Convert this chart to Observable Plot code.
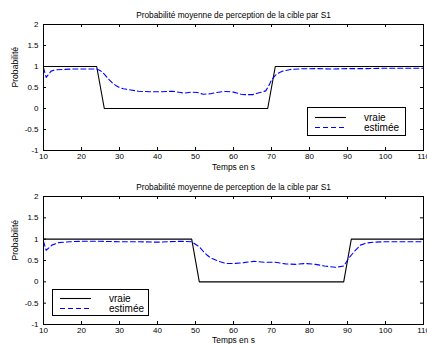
<!DOCTYPE html>
<html>
<head>
<meta charset="utf-8">
<script src="https://cdn.jsdelivr.net/npm/d3@7"></script>
<script src="https://cdn.jsdelivr.net/npm/@observablehq/plot@0.6"></script>
<style>
  body { margin: 0; background: white; font-family: "Liberation Sans", Arial, sans-serif; }
  #wrap { position: relative; width: 427px; height: 344px; overflow: hidden; background: white; }
  .panel { position: absolute; left: 0; width: 427px; height: 172px; }
  .legend { position: absolute; background: white; border: 1.3px solid black; box-sizing: border-box; }
  .legend svg { position: absolute; left: 0; top: 0; }
</style>
</head>
<body>
<div id="wrap">
  <div class="panel" id="p1" style="top:0px"></div>
  <div class="panel" id="p2" style="top:172px"></div>
</div>
<script>
const titleText = "Probabilité moyenne de perception de la cible par S1";
const xLabelText = "Temps en s";
const yLabelText = "Probabilité";
const legendLabels = ["vraie", "estimée"];
const xTicks = [10, 20, 30, 40, 50, 60, 70, 80, 90, 100, 110];
const yTicks = [-1, -0.5, 0, 0.5, 1, 1.5, 2];

// Panel 1 (top)
const top_trueT = [10, 24, 26, 69, 71, 110];
const top_trueP = [1, 1, 0, 0, 1, 1];
const top_estT = [10, 10.7, 12, 13, 15, 18, 20, 22, 24, 25, 26, 27, 28, 29, 30, 31, 33, 35, 38, 41, 44, 46, 47, 49, 50.5, 52, 54, 55, 57, 58, 60, 62, 63, 65, 67, 68.5, 69.5, 70, 71, 72, 73, 75, 78, 82, 86, 90, 95, 100, 105, 110];
const top_estP = [0.97, 0.74, 0.89, 0.92, 0.93, 0.94, 0.94, 0.94, 0.94, 0.90, 0.82, 0.71, 0.62, 0.55, 0.50, 0.47, 0.44, 0.41, 0.40, 0.40, 0.41, 0.38, 0.365, 0.39, 0.38, 0.34, 0.35, 0.37, 0.40, 0.405, 0.39, 0.34, 0.33, 0.33, 0.38, 0.42, 0.58, 0.68, 0.79, 0.85, 0.89, 0.93, 0.945, 0.95, 0.94, 0.95, 0.95, 0.96, 0.96, 0.96];

// Panel 2 (bottom)
const bot_trueT = [10, 49, 51, 89, 91, 110];
const bot_trueP = [1, 1, 0, 0, 1, 1];
const bot_estT = [10, 10.7, 12.2, 14, 17, 20, 25, 30, 35, 40, 43, 46, 49, 50, 51, 52, 53, 54, 55.3, 56.5, 58, 60, 62.7, 65.3, 68, 71, 73.7, 76.3, 79, 81.6, 84, 86.8, 89, 90.3, 91.7, 93.4, 95, 97, 100, 105, 110];
const bot_estP = [0.95, 0.74, 0.86, 0.92, 0.94, 0.95, 0.95, 0.94, 0.94, 0.93, 0.94, 0.95, 0.94, 0.88, 0.82, 0.72, 0.63, 0.56, 0.51, 0.47, 0.43, 0.43, 0.45, 0.48, 0.46, 0.46, 0.42, 0.41, 0.43, 0.41, 0.37, 0.34, 0.37, 0.55, 0.70, 0.86, 0.91, 0.93, 0.94, 0.94, 0.94];

const fmt = d => String(d);
const W = 427, H = 172, ML = 43, MR = 4, MT = 24;

function makePanel(trueT, trueP, estT, estP, marginBottom, xlabDy) {
  const trueData = trueT.map((t, i) => ({t, p: trueP[i]}));
  const estData = estT.map((t, i) => ({t, p: estP[i]}));
  const fh = H - MT - marginBottom;   // frame height in px
  const fw = W - ML - MR;             // frame width in px
  const tl = 3;                        // inward tick length
  return Plot.plot({
    width: W,
    height: H,
    marginLeft: ML,
    marginRight: MR,
    marginTop: MT,
    marginBottom: marginBottom,
    style: {fontFamily: "'Liberation Sans', Arial, sans-serif", fontSize: "8px", background: "white", color: "black", overflow: "hidden"},
    x: {domain: [10, 110]},
    y: {domain: [-1, 2]},
    marks: [
      Plot.axisX(xTicks, {anchor: "bottom", tickSize: 0, tickPadding: 3, tickFormat: fmt, label: null, fontSize: 8}),
      Plot.axisY(yTicks, {anchor: "left", tickSize: 0, tickPadding: 5, tickFormat: fmt, label: null, fontSize: 8}),
      Plot.tickX(xTicks, {x: d => d, insetTop: fh - tl, stroke: "black"}),
      Plot.tickX(xTicks, {x: d => d, insetBottom: fh - tl, stroke: "black"}),
      Plot.tickY(yTicks, {y: d => d, insetRight: fw - tl, stroke: "black"}),
      Plot.tickY(yTicks, {y: d => d, insetLeft: fw - tl, stroke: "black"}),
      Plot.line(trueData, {x: "t", y: "p", stroke: "black", strokeWidth: 1.1}),
      Plot.line(estData, {x: "t", y: "p", stroke: "#0000ff", strokeWidth: 1.1, strokeDasharray: "5,3"}),
      Plot.frame({stroke: "black", strokeWidth: 1}),
      Plot.text([titleText], {frameAnchor: "top", lineAnchor: "middle", dy: -9.3, fontSize: 8.3, fill: "black"}),
      Plot.text([xLabelText], {frameAnchor: "bottom", lineAnchor: "middle", dy: xlabDy, fontSize: 8.4, fill: "black"}),
      Plot.text([yLabelText], {frameAnchor: "left", lineAnchor: "middle", dx: -28, rotate: -90, fontSize: 8.6, fill: "black"})
    ]
  });
}

function makeLegend(left, top, w, h) {
  const div = document.createElement("div");
  div.className = "legend";
  div.style.left = left + "px";
  div.style.top = top + "px";
  div.style.width = w + "px";
  div.style.height = h + "px";
  const svg = d3.create("svg").attr("width", w).attr("height", h);
  const rows = [
    {label: legendLabels[0], stroke: "black", dash: null},
    {label: legendLabels[1], stroke: "#0000ff", dash: "5,3"}
  ];
  const y0 = h / 2 - 5, dyRow = 10;
  rows.forEach((r, i) => {
    const y = y0 + i * dyRow;
    const ln = svg.append("line").attr("x1", 7).attr("x2", 38).attr("y1", y).attr("y2", y)
      .attr("stroke", r.stroke).attr("stroke-width", 1.1);
    if (r.dash) ln.attr("stroke-dasharray", r.dash);
    svg.append("text").attr("x", 56).attr("y", y).attr("dy", "0.35em")
      .attr("font-family", "'Liberation Sans', Arial, sans-serif").attr("font-size", 10)
      .attr("fill", "black").text(r.label);
  });
  div.appendChild(svg.node());
  return div;
}

document.getElementById("p1").appendChild(makePanel(top_trueT, top_trueP, top_estT, top_estP, 22, 17));
document.getElementById("p2").appendChild(makePanel(bot_trueT, bot_trueP, bot_estT, bot_estP, 20, 16));
const wrap = document.getElementById("wrap");
wrap.appendChild(makeLegend(307, 107, 99, 29));
wrap.appendChild(makeLegend(52, 289, 97, 27));
</script>
</body>
</html>
